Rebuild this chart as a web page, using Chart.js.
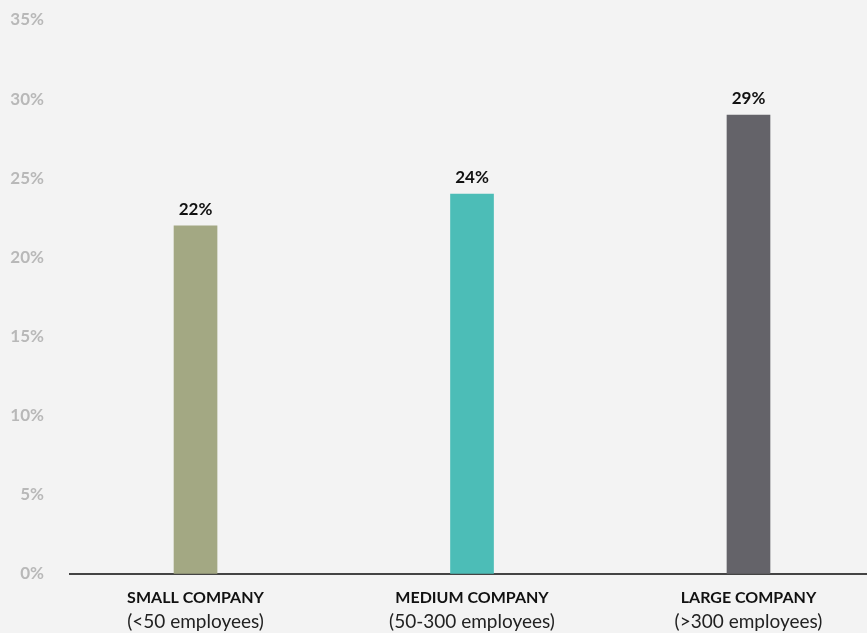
<!DOCTYPE html>
<html>
<head>
<meta charset="utf-8">
<script src="https://cdn.jsdelivr.net/npm/chart.js@4/dist/chart.umd.min.js"></script>
<style>
  html, body { margin: 0; padding: 0; background: #f3f3f3; }
  #wrap { width: 867px; height: 633px; }
</style>
</head>
<body>
<div id="wrap"><canvas id="sizeChart"></canvas></div>
<script>
const categories = ['SMALL COMPANY', 'MEDIUM COMPANY', 'LARGE COMPANY'];
const subLabels = ['(<50 employees)', '(50-300 employees)', '(>300 employees)'];
const shares = [22, 24, 29];
const barColors = ['#a3a883', '#4cbdb7', '#646369'];
const yTicks = [0, 5, 10, 15, 20, 25, 30, 35];

const positions = categories.map((c, i) => i);

const valueLabels = {
    id: 'valueLabels',
    afterDatasetsDraw(chart) {
        const ctx = chart.ctx;
        const meta = chart.getDatasetMeta(0);
        ctx.save();
        ctx.font = 'bold 17px Lato, "Open Sans", sans-serif';
        ctx.fillStyle = '#111111';
        ctx.textAlign = 'center';
        ctx.textBaseline = 'alphabetic';
        meta.data.forEach((bar, i) => {
            ctx.fillText(shares[i] + '%', bar.x, bar.y - 11);
        });
        ctx.restore();
    }
};

const fixedTicks = scale => {
    scale.ticks = positions.map(v => ({ value: v }));
};

const xRange = { min: -0.454, max: 2.4286 };

new Chart(document.getElementById('sizeChart'), {
    type: 'bar',
    data: {
        datasets: [{
            data: shares.map((v, i) => ({ x: positions[i], y: v })),
            backgroundColor: barColors,
            borderWidth: 0,
            barThickness: 43
        }]
    },
    options: {
        responsive: true,
        maintainAspectRatio: false,
        animation: false,
        layout: { padding: { top: 20, left: 0, right: 0, bottom: 0 } },
        plugins: {
            legend: { display: false },
            tooltip: { enabled: false }
        },
        scales: {
            x: {
                type: 'linear',
                position: 'bottom',
                offset: false,
                min: xRange.min,
                max: xRange.max,
                afterBuildTicks: fixedTicks,
                afterFit: s => { s.height = 36; },
                grid: { display: false, drawTicks: false, offset: false },
                border: { display: true, color: '#444444', width: 2 },
                ticks: {
                    padding: 14,
                    color: '#111111',
                    font: { family: 'Lato, "Open Sans", sans-serif', size: 16, weight: 'bold' },
                    callback: v => categories[v] || ''
                }
            },
            x2: {
                type: 'linear',
                position: 'bottom',
                offset: false,
                min: xRange.min,
                max: xRange.max,
                afterBuildTicks: fixedTicks,
                afterFit: s => { s.height = 23; },
                grid: { display: false, drawTicks: false, offset: false },
                border: { display: false },
                ticks: {
                    padding: 0,
                    color: '#222222',
                    font: { family: 'Lato, "Open Sans", sans-serif', size: 19 },
                    callback: v => subLabels[v] || ''
                }
            },
            y: {
                min: 0,
                max: 35,
                afterBuildTicks: s => { s.ticks = yTicks.map(v => ({ value: v })); },
                afterFit: s => { s.width = 70; },
                grid: {
                    display: true,
                    drawOnChartArea: false,
                    drawTicks: true,
                    tickLength: 26,
                    color: 'rgba(0,0,0,0)'
                },
                border: { display: false },
                ticks: {
                    padding: 0,
                    color: '#b8b8b8',
                    font: { family: 'Lato, "Open Sans", sans-serif', size: 17, weight: 'bold' },
                    callback: v => v + '%'
                }
            }
        }
    },
    plugins: [valueLabels]
});
</script>
</body>
</html>
